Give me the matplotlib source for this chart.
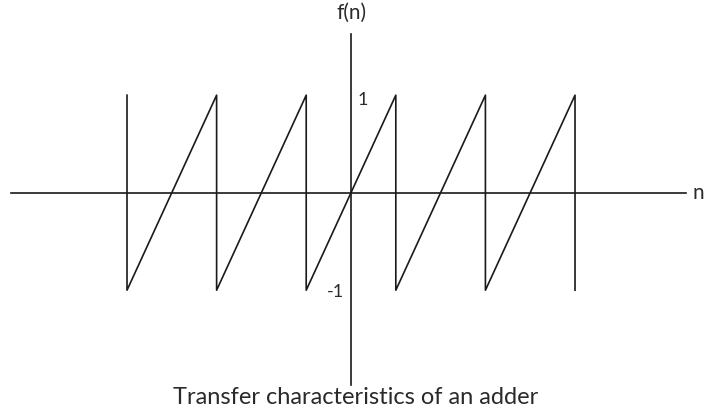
import matplotlib.pyplot as plt
import numpy as np

# sawtooth of the adder: jumps at these n, swinging between -1 and 1
jump_n = [-5, -3, -1, 1, 3, 5]
f_top = 1
f_bottom = -1

tick_top = "1"
tick_bottom = "-1"
x_name = "n"
y_name = "f(n)"
caption = "Transfer characteristics of an adder"

# polyline: vertical drop at each jump, ramp up to the next jump
xs = []
ys = []
for n in jump_n:
    xs += [n, n]
    ys += [f_top, f_bottom]

plt.rcParams['font.family'] = ['Lato', 'DejaVu Sans']

fig = plt.figure(figsize=(7.04, 4.12), dpi=100)
ax = fig.add_axes([0, 0, 1, 1])
ax.set_xlim(-7.835, 7.879)
ax.set_ylim(-2.249, 1.976)
ax.axis('off')

lc = '#1a1a1a'
lw = 1.2

# axes of the diagram
ax.plot([-7.6, 7.48], [0, 0], color=lc, lw=lw)
ax.plot([0, 0], [-1.97, 1.63], color=lc, lw=lw)

ax.plot(xs, ys, color=lc, lw=lw)

tc = '#2a2a2a'
ax.text(0.02, 1.74, y_name, ha='center', va='bottom', fontsize=15, color=tc)
ax.text(7.62, 0, x_name, ha='left', va='center', fontsize=15, color=tc)
ax.text(0.15, 0.95, tick_top, ha='left', va='center', fontsize=13, color=tc)
ax.text(-0.16, -1.02, tick_bottom, ha='right', va='center', fontsize=13, color=tc)
ax.text(0.1, -2.1, caption, ha='center', va='center', fontsize=17, color=tc)

fig.savefig('out.png', dpi=100)
